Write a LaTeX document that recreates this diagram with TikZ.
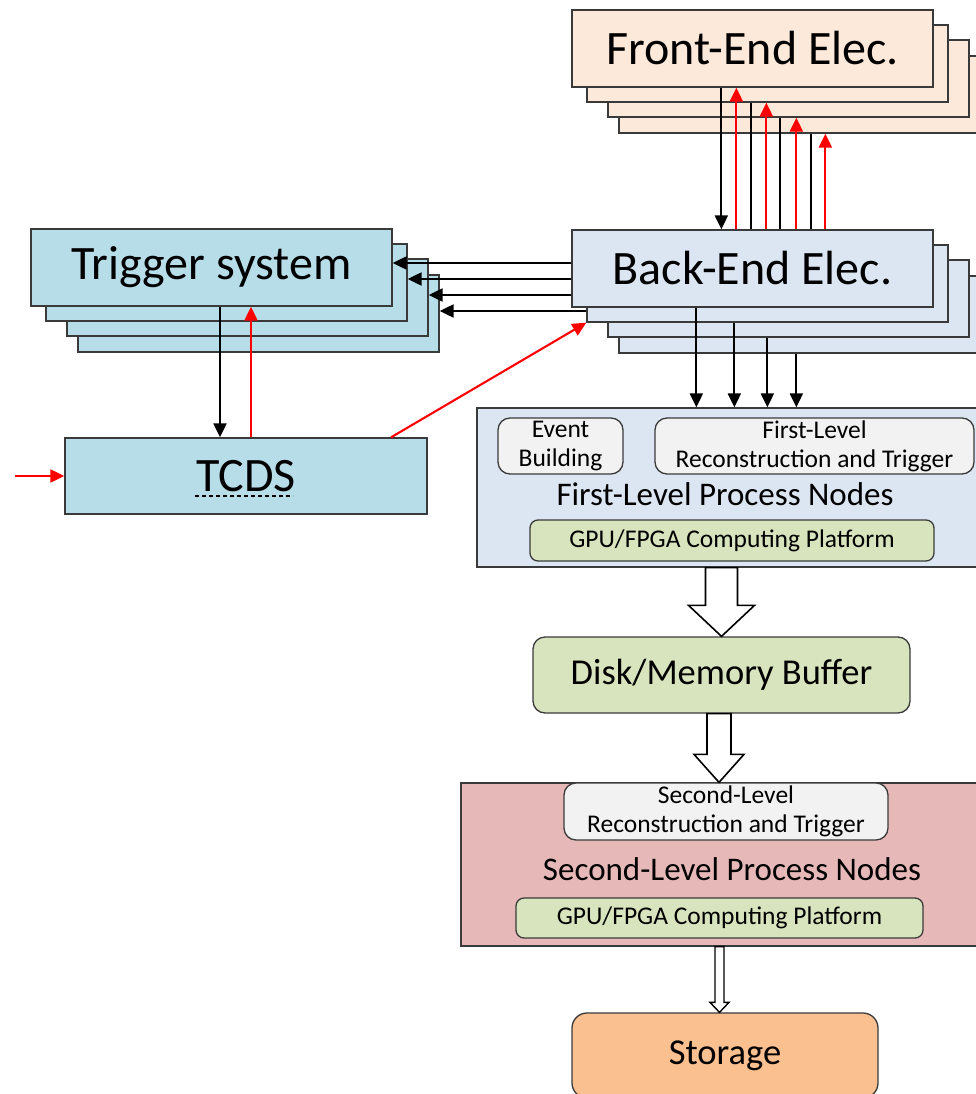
\documentclass[tikz,border=0pt]{standalone}
\usepackage{fontspec}
\setmainfont{Carlito}
\usetikzlibrary{arrows.meta,calc}
\definecolor{edge}{HTML}{3A3A3A}
\definecolor{feFill}{HTML}{FDE9D9}
\definecolor{beFill}{HTML}{DCE6F2}
\definecolor{trFill}{HTML}{B7DDE8}
\definecolor{boxFill}{HTML}{F2F2F2}
\definecolor{gpuFill}{HTML}{D7E4BD}
\definecolor{slFill}{HTML}{E6B9B8}
\definecolor{stFill}{HTML}{FAC090}
\definecolor{sig}{HTML}{FF0000}
\begin{document}
\begin{tikzpicture}[x=1pt,y=-1pt,
  card/.style={draw=edge, line width=1.3pt, inner sep=0pt,
    minimum width=361pt, minimum height=77pt, font=\fontsize{48}{56}\selectfont},
  panel/.style={draw=edge, line width=1.3pt, inner sep=0pt},
  pill/.style={draw=edge, line width=1.3pt, inner sep=0pt, rounded corners=8pt,
    align=center, font=\fontsize{25.5}{29}\selectfont},
  heading/.style={inner sep=0pt, font=\fontsize{33}{40}\selectfont},
  bigpill/.style={pill, font=\fontsize{36.5}{42}\selectfont},
  blk/.style={line width=2.1pt, draw=black, -{Triangle[length=14pt,width=13pt]}},
  redarr/.style={blk, draw=sig},
  blkline/.style={line width=2.1pt, draw=black},
  hollow/.style={draw=black, fill=white, line width=1.6pt, line join=miter}]
\useasboundingbox (0,0) rectangle (975,1094);

% front-end card stack
\node[card, fill=feFill] (fe4) at (799.5,94.5) {};
\node[card, fill=feFill] (fe3) at (788.5,78.5) {};
\node[card, fill=feFill] (fe2) at (767.5,63.5) {};
\node[card, fill=feFill] (fe1) at (752.5,48.5) {Front-End Elec.};

% back-end card stack
\node[card, fill=beFill] (be4) at (799.5,314.5) {};
\node[card, fill=beFill] (be3) at (788.5,298.5) {};
\node[card, fill=beFill] (be2) at (767.5,283.5) {};
\node[card, fill=beFill] (be1) at (752.5,268.5) {Back-End Elec.};

% trigger card stack
\node[card, fill=trFill] (tr4) at (258.5,313.5) {};
\node[card, fill=trFill] (tr3) at (247.5,297.5) {};
\node[card, fill=trFill] (tr2) at (226.5,282.5) {};
\node[card, fill=trFill] (tr1) at (211.5,267.5) {Trigger system};

% timing and control
\node[card, fill=trFill, minimum width=362pt, minimum height=76pt] (tcds) at (246,476) {TCDS};
\draw[line width=1.3pt, dash pattern=on 4pt off 3pt] ($(tcds.center)+(-51,20)$) -- ($(tcds.center)+(47,20)$);
\coordinate (ext) at (15,476);

% first-level processing
\node[panel, fill=beFill, minimum width=508pt, minimum height=159pt] (fl) at (731,487.5) {};
\node[pill, rounded corners=12pt, fill=boxFill, minimum width=125pt, minimum height=56pt] (evb) at (560.5,446) {Event\\Building};
\node[pill, rounded corners=12pt, fill=boxFill, minimum width=319pt, minimum height=56pt] (flrec) at (814.5,446) {First-Level\\Reconstruction and Trigger};
\node[heading, anchor=base] (fltitle) at (725,505) {First-Level Process Nodes};
\node[pill, fill=gpuFill, minimum width=404pt, minimum height=41pt] (flgpu) at (732,540.5) {GPU/FPGA Computing Platform};

% buffer
\node[bigpill, rounded corners=12pt, fill=gpuFill, minimum width=377pt, minimum height=76pt] (disk) at (721.5,675) {Disk/Memory Buffer};

% second-level processing
\node[panel, fill=slFill, minimum width=524pt, minimum height=163pt] (sl) at (723,864.5) {};
\node[pill, rounded corners=12pt, fill=boxFill, minimum width=324pt, minimum height=57pt] (slrec) at (726,811.5) {Second-Level\\Reconstruction and Trigger};
\node[heading, anchor=base] (sltitle) at (732,880) {Second-Level Process Nodes};
\node[pill, fill=gpuFill, minimum width=407pt, minimum height=40pt] (slgpu) at (719.5,918) {GPU/FPGA Computing Platform};

% storage
\node[bigpill, rounded corners=15pt, fill=stFill, minimum width=306pt, minimum height=85pt] (store) at (725,1055.5) {Storage};

% front-end <-> back-end links
\draw[blk] ([xshift=150pt]fe1.south west) -- ([xshift=150pt]be1.north west);
\draw[redarr] ([xshift=165pt]be1.north west) -- ([xshift=165pt]fe1.south west);
\draw[blkline] ([xshift=165pt]fe2.south west) -- ([xshift=180pt]be1.north west);
\draw[redarr] ([xshift=195pt]be1.north west) -- ([xshift=180pt]fe2.south west);
\draw[blkline] ([xshift=173pt]fe3.south west) -- ([xshift=209pt]be1.north west);
\draw[redarr] ([xshift=225pt]be1.north west) -- ([xshift=189pt]fe3.south west);
\draw[blkline] ([xshift=193pt]fe4.south west) -- ([xshift=240pt]be1.north west);
\draw[redarr] ([xshift=254pt]be1.north west) -- ([xshift=207pt]fe4.south west);

% back-end -> trigger
\draw[blk] (be1.west |- 0,263) -- (tr1.east |- 0,263);
\draw[blk] (be1.west |- 0,279) -- (tr2.east |- 0,279);
\draw[blk] (be1.west |- 0,295) -- (tr3.east |- 0,295);
\draw[blk] (be2.west |- 0,311) -- (tr4.east |- 0,311);

% trigger <-> TCDS
\draw[blk] (tr1.south -| 220,0) -- (tcds.north -| 220,0);
\draw[redarr] (tcds.north -| 251,0) -- (tr1.south -| 251,0);
\draw[redarr] (tcds.north -| 391,0) -- (be2.south west);
\draw[redarr] (ext) -- (tcds.west);

% back-end -> first-level nodes
\draw[blk] ([xshift=125pt]be1.south west) -- ([xshift=220pt]fl.north west);
\draw[blk] ([xshift=148pt]be2.south west) -- ([xshift=258pt]fl.north west);
\draw[blk] ([xshift=160pt]be3.south west) -- ([xshift=291pt]fl.north west);
\draw[blk] ([xshift=178pt]be4.south west) -- ([xshift=320pt]fl.north west);

% block arrows down the processing chain
\coordinate (a1s) at (disk.north |- fl.south);
\draw[hollow] ($(a1s)+(-16,0)$) -- ($(disk.north)+(-16,-31)$) -- ($(disk.north)+(-33,-31)$)
  -- (disk.north) -- ($(disk.north)+(33,-31)$) -- ($(disk.north)+(16,-31)$) -- ($(a1s)+(16,0)$) -- cycle;

\coordinate (a2s) at (disk.south -| 719,0);
\coordinate (a2t) at (sl.north -| 719,0);
\draw[hollow] ($(a2s)+(-12,0)$) -- ($(a2t)+(-12,-28)$) -- ($(a2t)+(-25,-28)$)
  -- (a2t) -- ($(a2t)+(25,-28)$) -- ($(a2t)+(12,-28)$) -- ($(a2s)+(12,0)$) -- cycle;

\coordinate (a3s) at (sl.south -| 719.5,0);
\coordinate (a3t) at (store.north -| 719.5,0);
\draw[hollow, line width=1.4pt] ($(a3s)+(-4.5,0)$) -- ($(a3t)+(-4.5,-10)$) -- ($(a3t)+(-9.5,-10)$)
  -- (a3t) -- ($(a3t)+(9.5,-10)$) -- ($(a3t)+(4.5,-10)$) -- ($(a3s)+(4.5,0)$) -- cycle;
\end{tikzpicture}
\end{document}
